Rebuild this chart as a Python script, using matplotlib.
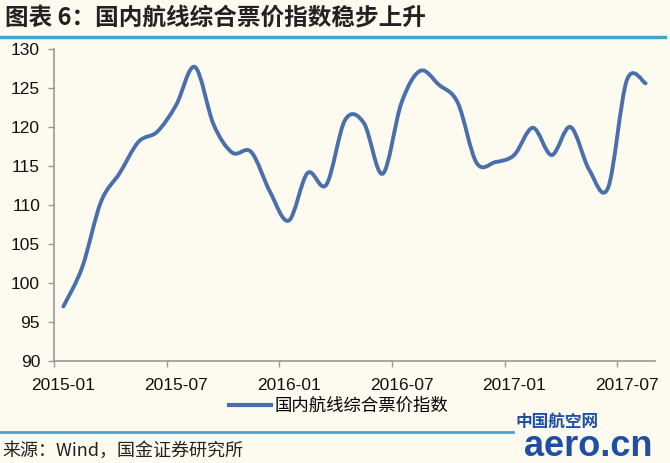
import matplotlib
matplotlib.use('Agg')
import matplotlib.pyplot as plt
from matplotlib.path import Path
from matplotlib.patches import PathPatch
from matplotlib.lines import Line2D
import numpy as np

plt.rcParams['font.family'] = ['Liberation Sans', 'Noto Sans CJK SC', 'DejaVu Sans']

months = ['2015-01', '2015-02', '2015-03', '2015-04', '2015-05', '2015-06',
          '2015-07', '2015-08', '2015-09', '2015-10', '2015-11', '2015-12',
          '2016-01', '2016-02', '2016-03', '2016-04', '2016-05', '2016-06',
          '2016-07', '2016-08', '2016-09', '2016-10', '2016-11', '2016-12',
          '2017-01', '2017-02', '2017-03', '2017-04', '2017-05', '2017-06',
          '2017-07', '2017-08']
values = [97.0, 102.0, 110.4, 114.1, 118.1, 119.4, 122.8, 127.7,
          120.3, 116.7, 116.8, 111.7, 108.0, 114.1, 112.6, 120.9,
          120.5, 114.0, 123.1, 127.2, 125.4, 123.1, 115.4, 115.5,
          116.4, 119.9, 116.4, 120.0, 114.5, 112.2, 126.0, 125.6]
tick_labels = ['2015-01', '2015-07', '2016-01', '2016-07', '2017-01', '2017-07']
series_name = '国内航线综合票价指数'
title = '图表 6：国内航线综合票价指数稳步上升'
source = '来源：Wind，国金证券研究所'

bg = '#FDFAF0'
line_color = '#4A70AC'
rule_color = '#4AA3CC'

fig = plt.figure(figsize=(6.70, 4.63), dpi=100, facecolor=bg)
ax = fig.add_axes([0.0806, 0.2203, 0.897, 0.6739], facecolor=bg)

# smoothed line (Catmull-Rom style Bezier through the data points)
x = np.arange(len(values), dtype=float)
y = np.array(values, dtype=float)
verts = [(x[0], y[0])]
codes = [Path.MOVETO]
n = len(x)
for i in range(n - 1):
    p0 = np.array([x[max(i - 1, 0)], y[max(i - 1, 0)]])
    p1 = np.array([x[i], y[i]])
    p2 = np.array([x[i + 1], y[i + 1]])
    p3 = np.array([x[min(i + 2, n - 1)], y[min(i + 2, n - 1)]])
    c1 = p1 + (p2 - p0) / 6.0
    c2 = p2 - (p3 - p1) / 6.0
    verts += [tuple(c1), tuple(c2), tuple(p2)]
    codes += [Path.CURVE4] * 3
patch = PathPatch(Path(verts, codes), facecolor='none', edgecolor=line_color,
                  lw=2.8, capstyle='round', joinstyle='round')
ax.add_patch(patch)

ax.set_xlim(-0.5, len(values) - 0.5)
ax.set_ylim(90, 130)
ax.set_yticks(np.arange(90, 131, 5))

pos = [months.index(t) for t in tick_labels]
ax.set_xticks(pos)
ax.set_xticklabels(tick_labels)
ax.set_xticks([p - 0.5 for p in pos], minor=True)
ax.tick_params(axis='x', which='major', length=0, pad=12, labelsize=12.5, colors='#111111')
ax.tick_params(axis='x', which='minor', length=4, width=1, color='#999999')
ax.tick_params(axis='y', length=4, width=1, color='#999999', pad=6, labelsize=12.5,
               labelcolor='#111111')

for s in ['top', 'right']:
    ax.spines[s].set_visible(False)
for s in ['left', 'bottom']:
    ax.spines[s].set_color('#999999')
    ax.spines[s].set_linewidth(1.2)

handle = Line2D([], [], color=line_color, lw=3.0)
leg = fig.legend([handle], [series_name], loc='center', bbox_to_anchor=(0.505, 0.123),
                 frameon=False, handlelength=2.4, handletextpad=0.2,
                 prop={'family': ['Noto Sans CJK SC', 'DejaVu Sans'], 'size': 12.5})

# title and rules
fig.text(0.008, 0.963, title, fontsize=17, fontweight='bold', color='#222222',
         ha='left', va='center', family=['Noto Sans CJK SC', 'DejaVu Sans'])
fig.add_artist(Line2D([0.0, 0.993], [0.921, 0.921], transform=fig.transFigure,
                      color=rule_color, lw=2.5))
fig.add_artist(Line2D([0.0, 0.765], [0.067, 0.067], transform=fig.transFigure,
                      color=rule_color, lw=2.0))
fig.text(0.003, 0.027, source, fontsize=13, color='#222222', ha='left', va='center',
         family=['Noto Sans CJK SC', 'DejaVu Sans'])

# watermark
fig.text(0.832, 0.09, '中国航空网', fontsize=12, fontweight='bold', color='#1F4FA3',
         ha='center', va='center', family=['Noto Sans CJK SC', 'DejaVu Sans'])
fig.text(0.878, 0.035, 'aero.cn', fontsize=26, fontweight='bold', color='#1F4FA3',
         ha='center', va='center', family=['Liberation Sans', 'DejaVu Sans'])

fig.savefig('out.png', dpi=100, facecolor=bg)
